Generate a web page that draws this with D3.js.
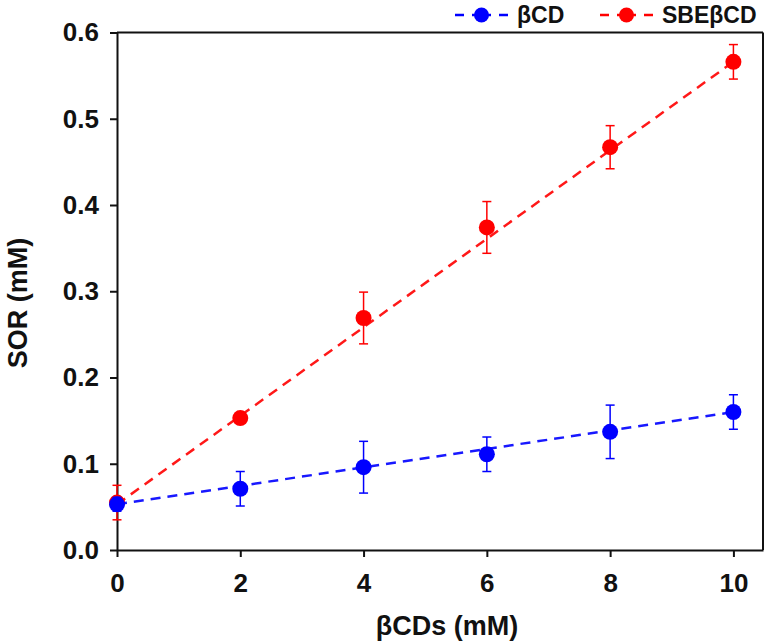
<!DOCTYPE html>
<html><head><meta charset="utf-8">
<script src="https://cdn.jsdelivr.net/npm/d3@7"></script>
<style>body{margin:0;background:#fff}svg{display:block}text{font-family:"Liberation Sans",Arial,sans-serif;font-weight:bold}</style>
</head><body><svg id="c" width="772" height="643"></svg>
<script>
const xVals = [0, 2, 4, 6, 8, 10];
const betaCD = [0.053, 0.071, 0.096, 0.111, 0.137, 0.160];
const betaCDErr = [0.008, 0.020, 0.030, 0.020, 0.031, 0.020];
const sbeCD = [0.055, 0.153, 0.269, 0.374, 0.467, 0.566];
const sbeCDErr = [0.020, 0.004, 0.030, 0.030, 0.025, 0.020];
const betaFit = [0.053, 0.160];   // fitted line at x=0 and x=10
const sbeFit = [0.053, 0.566];
const xTicks = [0, 2, 4, 6, 8, 10];
const yTicks = [0.0, 0.1, 0.2, 0.3, 0.4, 0.5, 0.6];
const seriesNames = ["βCD", "SBEβCD"];
const colors = ["#0000ff", "#ff0000"];

const svg = d3.select("#c");
const x = d3.scaleLinear().domain([0, 10.48]).range([117, 763]);
const y = d3.scaleLinear().domain([0, 0.6]).range([550, 32.5]);

// frame
svg.append("line").attr("x1", x(0)).attr("x2", x(10.48)).attr("y1", y(0.6)).attr("y2", y(0.6)).attr("stroke", "#111").attr("stroke-width", 2);
svg.append("line").attr("x1", x(10.48)).attr("x2", x(10.48)).attr("y1", y(0.6)).attr("y2", y(0)).attr("stroke", "#111").attr("stroke-width", 2);

const xAxis = svg.append("g").attr("transform", `translate(0,${y(0)})`)
  .call(d3.axisBottom(x).tickValues(xTicks).tickFormat(d3.format("d")).tickSize(7).tickSizeOuter(0));
const yAxis = svg.append("g").attr("transform", `translate(${x(0)},0)`)
  .call(d3.axisLeft(y).tickValues(yTicks).tickFormat(d3.format(".1f")).tickSize(7).tickSizeOuter(0));
[xAxis, yAxis].forEach(g => {
  g.select(".domain").attr("stroke", "#111").attr("stroke-width", 2);
  g.selectAll(".tick line").attr("stroke", "#111").attr("stroke-width", 2);
  g.selectAll("text").attr("fill", "#111").style("font-size", "26px").style("font-family", "Liberation Sans, Arial, sans-serif").style("font-weight", "bold");
});
xAxis.selectAll("text").attr("dy", "0").attr("y", 42);
yAxis.selectAll("text").attr("x", -18);

// axis titles
svg.append("text").attr("x", 447).attr("y", 635).attr("text-anchor", "middle").style("font-size", "27px").attr("fill", "#111").text("βCDs (mM)");
svg.append("text").attr("transform", "translate(27,303) rotate(-90)").attr("text-anchor", "middle").style("font-size", "27px").attr("fill", "#111").text("SOR (mM)");

const series = [
  {vals: betaCD, err: betaCDErr, fit: betaFit, color: colors[0]},
  {vals: sbeCD, err: sbeCDErr, fit: sbeFit, color: colors[1]}
];
[series[1], series[0]].forEach(s => {
  const g = svg.append("g");
  g.append("line").attr("x1", x(0)).attr("x2", x(10)).attr("y1", y(s.fit[0])).attr("y2", y(s.fit[1]))
    .attr("stroke", s.color).attr("stroke-width", 2.5).attr("stroke-dasharray", "10,7").attr("opacity", 0.9);
  xVals.forEach((xv, i) => {
    const v = s.vals[i], e = s.err[i];
    g.append("line").attr("x1", x(xv)).attr("x2", x(xv)).attr("y1", y(v - e)).attr("y2", y(v + e)).attr("stroke", s.color).attr("stroke-width", 1.5);
    [v - e, v + e].forEach(c => g.append("line").attr("x1", x(xv) - 4.5).attr("x2", x(xv) + 4.5).attr("y1", y(c)).attr("y2", y(c)).attr("stroke", s.color).attr("stroke-width", 1.5));
  });
  g.selectAll("circle").data(s.vals).join("circle")
    .attr("cx", (d, i) => x(xVals[i])).attr("cy", d => y(d)).attr("r", 8).attr("fill", s.color);
});

// legend
const legItems = [{x0: 455, text: seriesNames[0], color: colors[0]}, {x0: 600, text: seriesNames[1], color: colors[1]}];
legItems.forEach(l => {
  svg.append("line").attr("x1", l.x0).attr("x2", l.x0 + 53).attr("y1", 15).attr("y2", 15)
    .attr("stroke", l.color).attr("stroke-width", 2.5).attr("stroke-dasharray", "9,8,19,8,9");
  svg.append("circle").attr("cx", l.x0 + 26.5).attr("cy", 15).attr("r", 7.5).attr("fill", l.color);
  svg.append("text").attr("x", l.x0 + 62).attr("y", 23).style("font-size", "23px").attr("fill", "#111").text(l.text);
});
</script></body></html>
